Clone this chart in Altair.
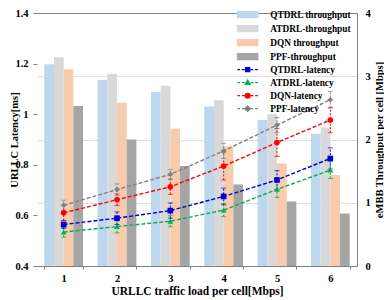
import altair as alt
import pandas as pd

loads = ["1", "2", "3", "4", "5", "6"]

bar_series = ["QTDRL throughput", "ATDRL-throughput", "DQN throughput", "PPF-throughput"]
qtdrl_tp = [3.19, 2.94, 2.75, 2.52, 2.31, 2.09]
atdrl_tp = [3.30, 3.04, 2.85, 2.62, 2.40, 2.19]
dqn_tp = [3.11, 2.58, 2.17, 1.89, 1.62, 1.44]
ppf_tp = [2.53, 2.00, 1.58, 1.29, 1.02, 0.83]

line_series = ["QTDRL-latency", "ATDRL-latency", "DQN-latency", "PPF-latency"]
qtdrl_lat = [0.564, 0.589, 0.619, 0.675, 0.740, 0.825]
atdrl_lat = [0.534, 0.556, 0.577, 0.621, 0.703, 0.779]
dqn_lat = [0.610, 0.662, 0.713, 0.795, 0.888, 0.977]
ppf_lat = [0.640, 0.702, 0.762, 0.855, 0.957, 1.057]

qtdrl_err = [0.015, 0.025, 0.030, 0.033, 0.037, 0.042]
atdrl_err = [0.020, 0.025, 0.022, 0.026, 0.032, 0.033]
dqn_err = [0.030, 0.023, 0.030, 0.055, 0.055, 0.050]
ppf_err = [0.020, 0.023, 0.020, 0.030, 0.030, 0.033]

bar_colors = ["#BDD7EE", "#D9D9D9", "#F8CBAD", "#A5A5A5"]
line_colors = ["#0000CC", "#00B050", "#FF0000", "#808080"]
point_shapes = ["square", "triangle-up", "circle", "diamond"]

# legend symbols (custom paths): wide swatches and dashed line with marker
rect_path = "M-3.4,-1H3.4V1H-3.4Z"
dash = "M-3.4,0H-2.5M-1.9,0H-1M1,0H1.9M2.5,0H3.4"
leg_shapes = [rect_path] * 4 + [
    dash + "M-0.7,-0.7H0.7V0.7H-0.7Z",
    dash + "M0,-0.9L0.85,0.6H-0.85Z",
    dash + "M-0.8,0A0.8,0.8 0 1,0 0.8,0A0.8,0.8 0 1,0 -0.8,0Z",
    dash + "M0,-0.9L0.9,0L0,0.9L-0.9,0Z",
]
legend_names = bar_series + line_series
legend_colors = bar_colors + line_colors

rows = []
for s, vals in zip(bar_series, [qtdrl_tp, atdrl_tp, dqn_tp, ppf_tp]):
    for l, v in zip(loads, vals):
        rows.append({"load": l, "series": s, "tp": v})
bars_df = pd.DataFrame(rows)

rows = []
for s, vals, errs in zip(line_series, [qtdrl_lat, atdrl_lat, dqn_lat, ppf_lat],
                         [qtdrl_err, atdrl_err, dqn_err, ppf_err]):
    for l, v, e in zip(loads, vals, errs):
        rows.append({"load": l, "series": s, "lat": v, "lo": v - e, "hi": v + e})
lat_df = pd.DataFrame(rows)

leg_df = pd.DataFrame({"name": legend_names})

FONT = "Liberation Serif"
H = 253

x_enc = alt.X(
    "load:N", sort=loads,
    scale=alt.Scale(paddingInner=0.274, paddingOuter=0.137),
    axis=alt.Axis(title="URLLC  traffic load per cell[Mbps]", labelAngle=0,
                  tickBand="extent", tickSize=3, labelPadding=4, titlePadding=2,
                  titleFontSize=11.5,
                  domainColor="#808080", tickColor="#808080"),
)

lat_axis = alt.Axis(
    orient="left", values=[0.4, 0.6, 0.8, 1.0, 1.2, 1.4], format=".1~f",
    title="URLLC Latency[ms]", domain=False, tickSize=4, labelPadding=5,
    tickColor="#808080",
    grid=True, gridColor="#808080",
    gridOpacity={"condition": {"test": "datum.value > 1.39", "value": 1}, "value": 0},
    titleAngle=270, titleBaseline="middle", titleAlign="center", titleX=-23, titleY=H / 2,
    titleFontSize=10.5,
)
lat_scale = alt.Scale(domain=[0.4, 1.4], nice=False)


def ly(field):
    return alt.Y(field, type="quantitative", scale=lat_scale, axis=lat_axis)


bars = alt.Chart(bars_df).mark_bar().encode(
    x=x_enc,
    xOffset=alt.XOffset("series:N", sort=bar_series,
                        scale=alt.Scale(domain=bar_series, paddingInner=0, paddingOuter=0)),
    y=alt.Y("tp:Q", scale=alt.Scale(domain=[0, 4], nice=False),
            axis=alt.Axis(orient="right", values=[0, 1, 2, 3, 4],
                          title="eMBB Throughput per cell [Mbps]", ticks=False,
                          labelPadding=8, domainColor="#808080",
                          titleAngle=270, titleBaseline="middle", titleAlign="center",
                          titleX=22, titleY=H / 2, titleFontSize=10.5)),
    fill=alt.Fill("series:N", scale=alt.Scale(domain=bar_series, range=bar_colors), legend=None),
)

stroke_enc = alt.Stroke("series:N", scale=alt.Scale(domain=line_series, range=line_colors), legend=None)
color_enc = alt.Color("series:N", scale=alt.Scale(domain=line_series, range=line_colors), legend=None)
fill_enc = alt.Fill("series:N", scale=alt.Scale(domain=line_series, range=line_colors), legend=None)

lines = alt.Chart(lat_df).mark_line(strokeDash=[4, 2], strokeWidth=1.4).encode(
    x=x_enc, y=ly("lat"), stroke=stroke_enc)
err = alt.Chart(lat_df).mark_rule(strokeDash=[2, 1.5], strokeWidth=1).encode(
    x=x_enc, y=ly("lo"), y2="hi:Q", stroke=stroke_enc)
cap_hi = alt.Chart(lat_df).mark_tick(size=5, thickness=1).encode(
    x=x_enc, y=ly("hi"), color=color_enc)
cap_lo = alt.Chart(lat_df).mark_tick(size=5, thickness=1).encode(
    x=x_enc, y=ly("lo"), color=color_enc)
points = alt.Chart(lat_df).mark_point(filled=True, size=32, opacity=1).encode(
    x=x_enc, y=ly("lat"), fill=fill_enc,
    shape=alt.Shape("series:N", scale=alt.Scale(domain=line_series, range=point_shapes), legend=None))

latency = alt.layer(lines, err, cap_hi, cap_lo, points)

leg = alt.Legend(
    orient="none", legendX=196, legendY=-3, title=None, padding=0,
    symbolSize=36, symbolStrokeWidth=1.2, symbolOpacity=1, symbolOffset=10,
    labelOffset=18, rowPadding=2,
    labelFont=FONT, labelFontWeight="bold", labelFontSize=9.3, labelColor="black",
)
legend_layer = alt.Chart(leg_df).mark_point(filled=True, opacity=0).encode(
    fill=alt.Fill("name:N", sort=legend_names,
                  scale=alt.Scale(domain=legend_names, range=legend_colors), legend=leg),
    stroke=alt.Stroke("name:N", sort=legend_names,
                      scale=alt.Scale(domain=legend_names, range=legend_colors), legend=leg),
    shape=alt.Shape("name:N", sort=legend_names,
                    scale=alt.Scale(domain=legend_names, range=leg_shapes), legend=leg),
)

chart = alt.layer(bars, latency, legend_layer).resolve_scale(
    y="independent", fill="independent", stroke="independent",
    shape="independent", color="independent",
).properties(
    width=320, height=H,
    autosize=alt.AutoSizeParams(type="none"),
    padding={"left": 29, "top": 5, "right": 27, "bottom": 31},
).configure_view(stroke=None).configure_axis(
    labelFont=FONT, labelFontWeight="bold", labelFontSize=10.5, labelColor="black",
    titleFont=FONT, titleFontWeight="bold", titleFontSize=11, titleColor="black",
)

chart.save("out.html", embed_options={"renderer": "svg", "actions": False})
